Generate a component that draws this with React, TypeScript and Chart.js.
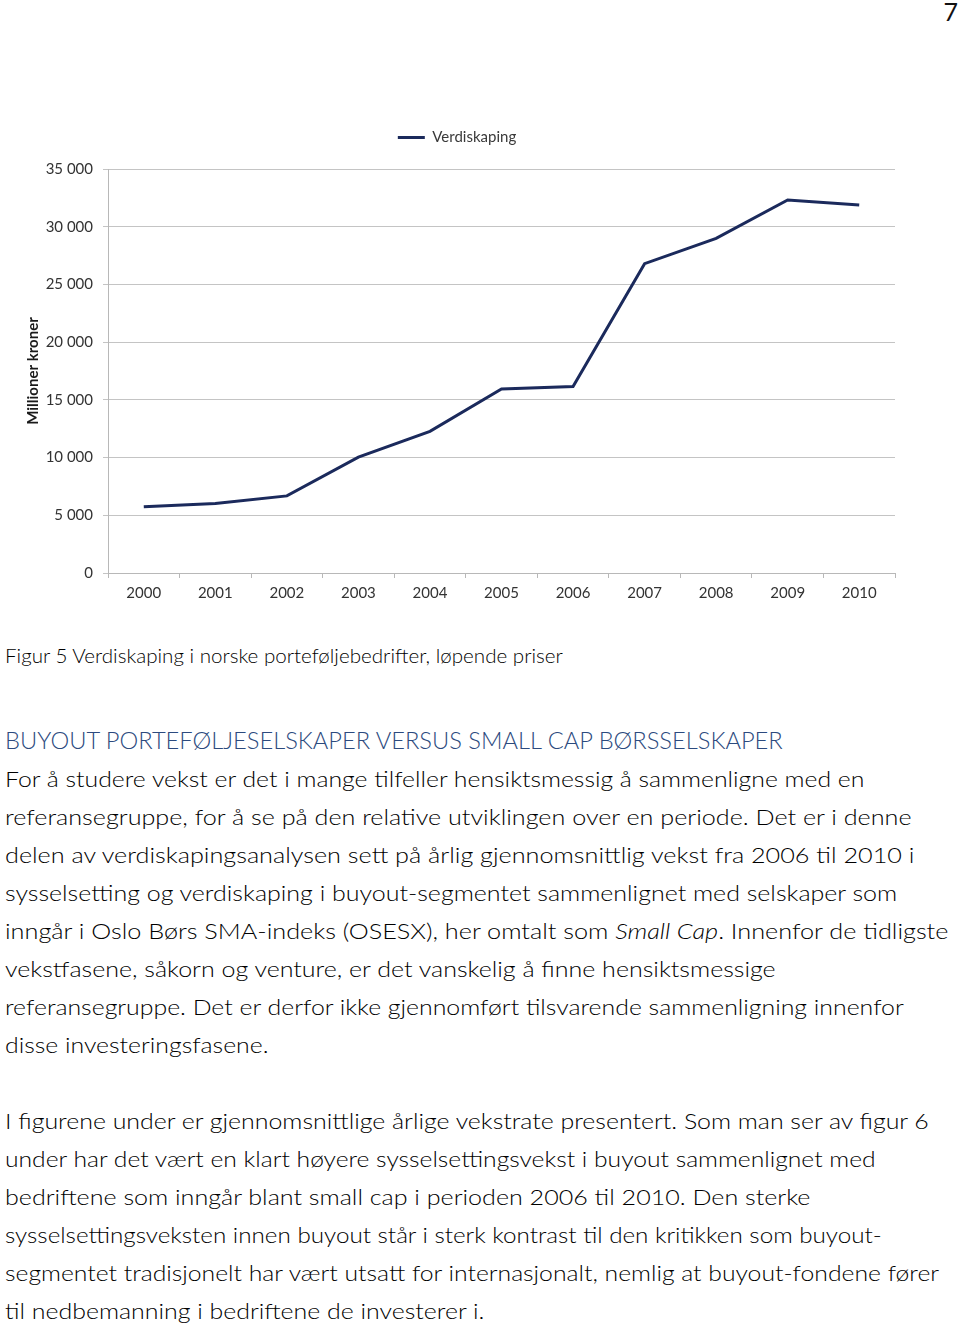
import React, { useEffect, useLayoutEffect, useRef } from 'react';
import { Chart, registerables } from 'chart.js';

Chart.register(...registerables);

// ---- chart data ----
const years = ['2000', '2001', '2002', '2003', '2004', '2005', '2006', '2007', '2008', '2009', '2010'];
const verdiskaping = [5730, 6020, 6680, 10040, 12270, 15950, 16150, 26800, 28990, 32320, 31890];
const seriesLabel = 'Verdiskaping';
const yAxisTitle = 'Millioner kroner';
const yMin = 0;
const yMax = 35000;
const yStep = 5000;

// ---- page text ----
const pageNumber = '7';
const caption = 'Figur 5 Verdiskaping i norske porteføljebedrifter, løpende priser';
const heading = 'BUYOUT PORTEFØLJESELSKAPER VERSUS SMALL CAP BØRSSELSKAPER';
const paragraph1 = [
  'For å studere vekst er det i mange tilfeller hensiktsmessig å sammenligne med en',
  'referansegruppe, for å se på den relative utviklingen over en periode. Det er i denne',
  'delen av verdiskapingsanalysen sett på årlig gjennomsnittlig vekst fra 2006 til 2010 i',
  'sysselsetting og verdiskaping i buyout-segmentet sammenlignet med selskaper som',
  'inngår i Oslo Børs SMA-indeks (OSESX), her omtalt som _Small Cap_. Innenfor de tidligste',
  'vekstfasene, såkorn og venture, er det vanskelig å finne hensiktsmessige',
  'referansegruppe. Det er derfor ikke gjennomført tilsvarende sammenligning innenfor',
  'disse investeringsfasene.',
];
const paragraph2 = [
  'I figurene under er gjennomsnittlige årlige vekstrate presentert. Som man ser av figur 6',
  'under har det vært en klart høyere sysselsettingsvekst i buyout sammenlignet med',
  'bedriftene som inngår blant small cap i perioden 2006 til 2010. Den sterke',
  'sysselsettingsveksten innen buyout står i sterk kontrast til den kritikken som buyout-',
  'segmentet tradisjonelt har vært utsatt for internasjonalt, nemlig at buyout-fondene fører',
  'til nedbemanning i bedriftene de investerer i.',
];

// ---- layout (positions of text lines, read from the page) ----
const p1Centers = [779, 817, 855, 893, 931, 969, 1007, 1045];
const p1Rights = [865, 912, 914, 897, 948, 776, 904, 268];
const p2Centers = [1121, 1159, 1197, 1235, 1273, 1311];
const p2Rights = [929, 876, 810, 882, 939, 484];

const TEXT_FONT = 'Lato, "Open Sans", sans-serif';
const CANVAS_TOP = 100;
const CANVAS_W = 914;
const CANVAS_H = 502;
const LEGEND_GAP = 14;

function fmt(v: number) {
  return String(v).replace(/\B(?=(\d{3})+(?!\d))/g, ' ');
}

// adds some empty space between the legend row and the plot area
const legendGapPlugin = {
  id: 'legendGap',
  beforeLayout(chart: any) {
    const lg = chart.legend;
    if (lg && !lg._gapPatched) {
      const orig = lg.fit.bind(lg);
      lg.fit = function () {
        orig();
        this.height += LEGEND_GAP;
      };
      lg._gapPatched = true;
    }
  },
};

function FitLine(props: { text: string; x: number; cy: number; right: number; size: number; color: string }) {
  const { text, x, cy, right, size, color } = props;
  const ref = useRef<HTMLSpanElement>(null);
  useLayoutEffect(() => {
    const fit = () => {
      const el = ref.current;
      if (!el) return;
      el.style.transform = 'none';
      const w = el.offsetWidth;
      if (w > 0) el.style.transform = `scaleX(${(right - x) / w})`;
    };
    fit();
    if ((document as any).fonts && (document as any).fonts.ready) {
      (document as any).fonts.ready.then(fit);
    }
  }, [text, x, right, size]);
  const lh = 30;
  const parts = text.split('_');
  return (
    <span
      ref={ref}
      style={{
        position: 'absolute',
        left: x,
        top: cy - lh / 2,
        height: lh,
        lineHeight: lh + 'px',
        fontSize: size,
        fontWeight: 300,
        color,
        whiteSpace: 'nowrap',
        transformOrigin: 'left center',
        fontFamily: TEXT_FONT,
      }}
    >
      {parts.map((p, i) => (i % 2 ? <i key={i}>{p}</i> : <React.Fragment key={i}>{p}</React.Fragment>))}
    </span>
  );
}

function LineChart() {
  const canvasRef = useRef<HTMLCanvasElement>(null);
  useEffect(() => {
    if (!canvasRef.current) return;
    const navy = '#1b2a5c';
    const chart = new Chart(canvasRef.current, {
      type: 'line',
      data: {
        labels: years,
        datasets: [
          {
            label: seriesLabel,
            data: verdiskaping,
            borderColor: navy,
            backgroundColor: navy,
            borderWidth: 3,
            pointRadius: 0,
            pointStyle: 'line',
            tension: 0,
          },
        ],
      },
      plugins: [legendGapPlugin as any],
      options: {
        responsive: false,
        animation: false,
        font: { family: 'Lato' } as any,
        layout: { padding: { top: 6, left: 19, right: 19, bottom: 0 } },
        plugins: {
          legend: {
            position: 'top',
            align: 'center',
            labels: {
              usePointStyle: true,
              pointStyleWidth: 27,
              boxHeight: 15,
              padding: 10,
              color: '#3a3a3a',
              font: { family: 'Lato', size: 15 },
            } as any,
          },
          tooltip: { enabled: false },
        },
        scales: {
          x: {
            type: 'category',
            offset: true,
            grid: {
              display: true,
              drawOnChartArea: false,
              drawTicks: true,
              tickLength: 5,
              offset: true,
              color: '#b8b8b8',
            },
            border: { display: true, color: '#b8b8b8' },
            ticks: {
              color: '#333333',
              font: { family: 'Lato', size: 15 },
              padding: 6,
              maxRotation: 0,
              autoSkip: false,
            },
            afterFit: (s: any) => {
              s.height = 29;
            },
          },
          y: {
            min: yMin,
            max: yMax,
            ticks: {
              stepSize: yStep,
              color: '#333333',
              font: { family: 'Lato', size: 15 },
              padding: 10,
              callback: (v: any) => fmt(Number(v)),
            },
            grid: { color: '#c4c4c4', tickLength: 5 },
            border: { color: '#b8b8b8' },
            title: {
              display: true,
              text: yAxisTitle,
              color: '#1a1a1a',
              font: { family: 'Lato', size: 15, weight: 'bold' },
              padding: { top: 5, bottom: 0 },
            },
            afterFit: (s: any) => {
              s.width = 89;
              s.paddingTop = 69;
            },
          },
        },
      } as any,
    });
    return () => chart.destroy();
  }, []);
  return (
    <canvas
      ref={canvasRef}
      width={CANVAS_W}
      height={CANVAS_H}
      style={{ position: 'absolute', left: 0, top: CANVAS_TOP, width: CANVAS_W, height: CANVAS_H }}
    />
  );
}

export default function App() {
  return (
    <div
      style={{
        position: 'absolute',
        left: 0,
        top: 0,
        width: 960,
        height: 1327,
        overflow: 'hidden',
        background: '#ffffff',
        fontFamily: TEXT_FONT,
      }}
    >
      <span
        style={{
          position: 'absolute',
          right: 2,
          top: -4,
          fontSize: 25,
          lineHeight: '30px',
          color: '#111',
          fontFamily: TEXT_FONT,
        }}
      >
        {pageNumber}
      </span>
      <LineChart />
      <FitLine text={caption} x={5} cy={655} right={563} size={20} color="#000" />
      <FitLine text={heading} x={5} cy={740} right={783} size={23} color="#2c4a7e" />
      {paragraph1.map((t, i) => (
        <FitLine key={'a' + i} text={t} x={5} cy={p1Centers[i]} right={p1Rights[i]} size={22} color="#000" />
      ))}
      {paragraph2.map((t, i) => (
        <FitLine key={'b' + i} text={t} x={5} cy={p2Centers[i]} right={p2Rights[i]} size={22} color="#000" />
      ))}
    </div>
  );
}
